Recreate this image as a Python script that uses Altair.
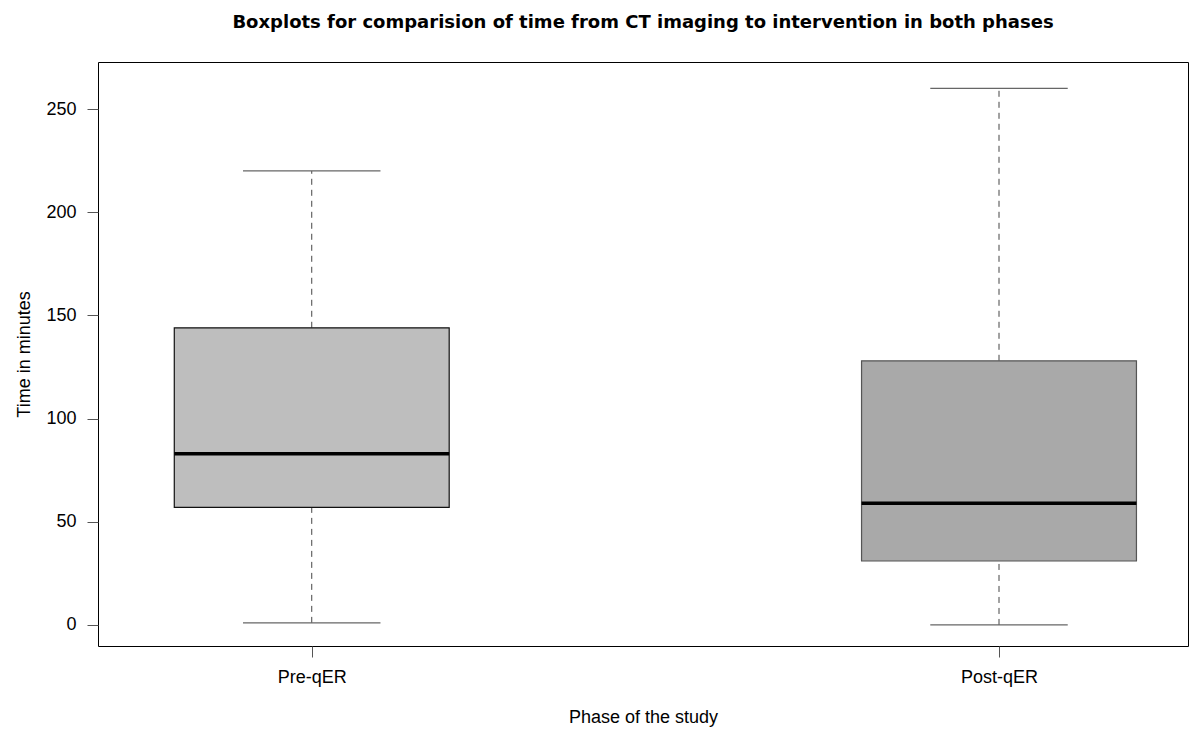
import altair as alt
import pandas as pd

categories = ["Pre-qER", "Post-qER"]
positions = [1, 2]
whisker_low = [1, 0]
q1 = [57, 31]
median = [83, 59]
q3 = [144, 128]
whisker_high = [220, 260]
fills = ["#BEBEBE", "#A9A9A9"]
borders = ["#111111", "#555555"]

df = pd.DataFrame({
    "phase": categories,
    "pos": positions,
    "low": whisker_low,
    "q1": q1,
    "median": median,
    "q3": q3,
    "high": whisker_high,
    "fill": fills,
    "border": borders,
})

FONT = "Liberation Sans"
xscale = alt.Scale(domain=[0.689, 2.275], nice=False, zero=False)
yscale = alt.Scale(domain=[-10.2, 272.8], nice=False, zero=False)

label_expr = "datum.value == 1 ? '" + categories[0] + "' : '" + categories[1] + "'"

base = alt.Chart(df).transform_calculate(
    bl="datum.pos - 0.2", br="datum.pos + 0.2",
    cl="datum.pos - 0.1", cr="datum.pos + 0.1",
)

xaxis = alt.Axis(values=positions, labelExpr=label_expr, title="Phase of the study",
                 grid=False, domain=False, tickColor="#555555", tickSize=11,
                 labelFontSize=18, labelPadding=11, labelColor="black",
                 titleFontSize=18, titleFontWeight="normal",
                 titleY=76, titleBaseline="alphabetic",
                 labelFont=FONT, titleFont=FONT, titleColor="black")
yaxis = alt.Axis(values=[0, 50, 100, 150, 200, 250], title="Time in minutes",
                 grid=False, domain=False, tickColor="#555555", tickSize=11,
                 labelFontSize=18, labelPadding=11, labelColor="black",
                 titleFontSize=18, titleFontWeight="normal", titlePadding=12,
                 labelFont=FONT, titleFont=FONT, titleColor="black")

whisk_lo = base.mark_rule(strokeDash=[6, 5], color="#444444", strokeWidth=1).encode(
    x=alt.X("pos:Q", scale=xscale, axis=xaxis),
    y=alt.Y("low:Q", scale=yscale, axis=yaxis),
    y2="q1:Q",
)
whisk_hi = base.mark_rule(strokeDash=[6, 5], color="#444444", strokeWidth=1).encode(
    x=alt.X("pos:Q", scale=xscale),
    y=alt.Y("q3:Q", scale=yscale),
    y2="high:Q",
)
cap_lo = base.mark_rule(color="#666666", strokeWidth=1.3).encode(
    x=alt.X("cl:Q", scale=xscale), x2="cr:Q",
    y=alt.Y("low:Q", scale=yscale),
)
cap_hi = base.mark_rule(color="#666666", strokeWidth=1.3).encode(
    x=alt.X("cl:Q", scale=xscale), x2="cr:Q",
    y=alt.Y("high:Q", scale=yscale),
)
boxes = base.mark_rect(strokeWidth=1.2).encode(
    x=alt.X("bl:Q", scale=xscale), x2="br:Q",
    y=alt.Y("q1:Q", scale=yscale), y2="q3:Q",
    fill=alt.Fill("fill:N", scale=None),
    stroke=alt.Stroke("border:N", scale=None),
)
meds = base.mark_rule(color="black", strokeWidth=3.5).encode(
    x=alt.X("bl:Q", scale=xscale), x2="br:Q",
    y=alt.Y("median:Q", scale=yscale),
)

chart = alt.layer(whisk_lo, whisk_hi, cap_lo, cap_hi, boxes, meds).properties(
    width=1090, height=584,
    title=alt.TitleParams(
        "Boxplots for comparision of time from CT imaging to intervention in both phases",
        font="DejaVu Sans", fontSize=18, fontWeight="bold", color="black", anchor="middle",
        offset=30,
    ),
    autosize=alt.AutoSizeParams(type="none"),
    padding={"left": 90, "top": 54, "right": 6, "bottom": 81},
    background="white",
).configure_view(stroke="black", strokeWidth=1)

chart.save("out.html", embed_options={"renderer": "svg", "actions": False})
